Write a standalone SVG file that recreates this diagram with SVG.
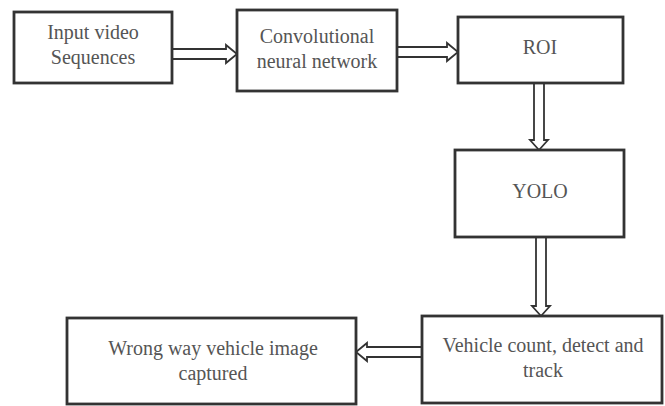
<svg xmlns="http://www.w3.org/2000/svg" width="665" height="406" viewBox="0 0 665 406">
<style>
.box{fill:#fff;stroke:#333;stroke-width:2.8}
.arr{fill:#fff;stroke:#333;stroke-width:1.8;stroke-linejoin:miter}
text{font-family:"Liberation Serif","Times New Roman",serif;font-size:20px;fill:#555;text-anchor:middle}
</style>
<rect width="665" height="406" fill="#fff"/>
<g id="connectors">
<polygon class="arr" points="172,49 226,49 226,45 237,54 226,63 226,59 172,59"/>
<polygon class="arr" points="397,47 447,47 447,43 458,52 447,61 447,57 397,57"/>
<polygon class="arr" points="534,83 534,140 530,140 539,150 548,140 544,140 544,83"/>
<polygon class="arr" points="536,237 536,306 532,306 541,316 550,306 546,306 546,237"/>
<polygon class="arr" points="422,347 367,347 367,343 356,352 367,361 367,357 422,357"/>
</g>
<g id="input"><rect class="box" x="14" y="12" width="158" height="71"/><text x="93" y="39">Input video</text><text x="93" y="64">Sequences</text></g>
<g id="cnn"><rect class="box" x="237" y="10" width="160" height="81"/><text x="317" y="43">Convolutional</text><text x="317" y="68">neural network</text></g>
<g id="roi"><rect class="box" x="458" y="17" width="165" height="66"/><text x="540" y="54">ROI</text></g>
<g id="yolo"><rect class="box" x="455" y="150" width="169" height="87"/><text x="540" y="198">YOLO</text></g>
<g id="vehicle"><rect class="box" x="422" y="316" width="240" height="87"/><text x="543" y="352">Vehicle count, detect and</text><text x="543" y="377">track</text></g>
<g id="wrong"><rect class="box" x="67" y="318" width="289" height="86"/><text x="213" y="355">Wrong way vehicle image</text><text x="213" y="380">captured</text></g>
</svg>
